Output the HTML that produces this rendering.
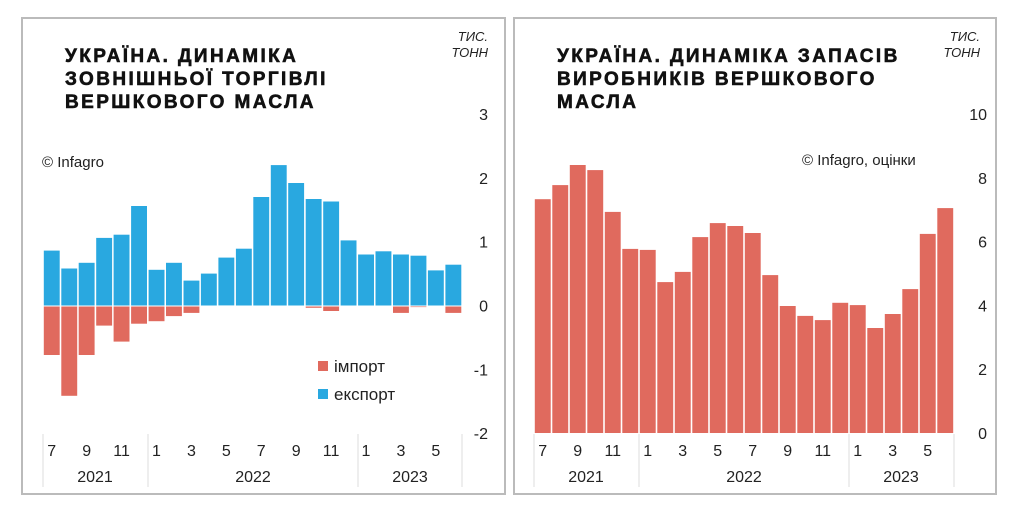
<!DOCTYPE html>
<html><head><meta charset="utf-8"><style>
html,body{margin:0;padding:0;background:#fff;width:1024px;height:517px;overflow:hidden}
svg{display:block;font-family:"Liberation Sans",sans-serif}
.t{font-weight:bold;font-size:19px;letter-spacing:2.4px;fill:#111;stroke:#111;stroke-width:0.6}
.u{font-style:italic;font-size:13px;fill:#222}
.y{font-size:16px;fill:#222}
.m{font-size:16px;fill:#222}
</style></head><body>
<svg id="s" width="1024" height="517" viewBox="0 0 1024 517">
<rect x="22" y="18" width="483" height="476" fill="none" stroke="#bbb" stroke-width="2"/>
<rect x="514" y="18" width="482" height="476" fill="none" stroke="#bbb" stroke-width="2"/>
<text class="t" x="65" y="62">УКРАЇНА. ДИНАМІКА</text>
<text class="t" x="65" y="85">ЗОВНІШНЬОЇ ТОРГІВЛІ</text>
<text class="t" x="65" y="108">ВЕРШКОВОГО МАСЛА</text>
<text class="u" x="488" y="41" text-anchor="end">ТИС.</text>
<text class="u" x="488" y="57" text-anchor="end">ТОНН</text>
<text class="t" x="557" y="62">УКРАЇНА. ДИНАМІКА ЗАПАСІВ</text>
<text class="t" x="557" y="85">ВИРОБНИКІВ ВЕРШКОВОГО</text>
<text class="t" x="557" y="108">МАСЛА</text>
<text class="u" x="980" y="41" text-anchor="end">ТИС.</text>
<text class="u" x="980" y="57" text-anchor="end">ТОНН</text>
<text x="42" y="167" style="font-size:15px;fill:#222">© Infagro</text>
<text x="802" y="165" style="font-size:15px;fill:#222">© Infagro, оцінки</text>
<rect x="318" y="361" width="10" height="10" fill="#e06a5e"/>
<text x="334" y="372" style="font-size:17px;fill:#222">імпорт</text>
<rect x="318" y="389" width="10" height="10" fill="#29a8e0"/>
<text x="334" y="400" style="font-size:17px;fill:#222">експорт</text>
<g id="g"></g>
</svg>
<script>
var g=document.getElementById('g'),h='';
var ex=[0.86,0.58,0.67,1.06,1.11,1.56,0.56,0.67,0.39,0.5,0.75,0.89,1.7,2.2,1.92,1.67,1.63,1.02,0.8,0.85,0.8,0.78,0.55,0.64];
var im=[0.76,1.4,0.76,0.3,0.55,0.27,0.23,0.15,0.1,0,0,0,0,0,0,0.02,0.07,0,0,0,0.1,0.01,0,0.1];
var st=[7.33,7.77,8.4,8.24,6.93,5.77,5.74,4.73,5.05,6.14,6.58,6.49,6.27,4.95,3.98,3.67,3.54,4.08,4.01,3.29,3.73,4.51,6.24,7.05];
var p=17.46,z=305.5,k=63.8;
for(var i=0;i<24;i++){var x=43+i*p;
h+='<rect x="'+(x+0.8).toFixed(1)+'" y="'+(z-ex[i]*k).toFixed(1)+'" width="'+(p-1.6).toFixed(1)+'" height="'+(ex[i]*k).toFixed(1)+'" fill="#29a8e0"/>';
if(im[i]>0)h+='<rect x="'+(x+0.8).toFixed(1)+'" y="'+(z+1)+'" width="'+(p-1.6).toFixed(1)+'" height="'+(im[i]*k).toFixed(1)+'" fill="#e06a5e"/>';
var x2=534+i*17.5,z2=433,k2=31.9;
h+='<rect x="'+(x2+0.8).toFixed(1)+'" y="'+(z2-st[i]*k2).toFixed(1)+'" width="15.9" height="'+(st[i]*k2).toFixed(1)+'" fill="#e06a5e"/>';}
var yl=[3,2,1,0,-1,-2];for(var j=0;j<6;j++)h+='<text class="y" x="488" y="'+(z-yl[j]*k+6)+'" text-anchor="end">'+yl[j]+'</text>';
for(var j=0;j<=10;j+=2)h+='<text class="y" x="987" y="'+(433-j*31.9+6)+'" text-anchor="end">'+j+'</text>';
var ms=[7,9,11,1,3,5,7,9,11,1,3,5];
for(var j=0;j<12;j++){h+='<text class="m" x="'+(43+(2*j+0.5)*p)+'" y="456" text-anchor="middle">'+ms[j]+'</text>';
h+='<text class="m" x="'+(534+(2*j+0.5)*17.5)+'" y="456" text-anchor="middle">'+ms[j]+'</text>';}
[43,148,358,462,534,639,849,954].forEach(function(x){h+='<line x1="'+x+'" y1="434" x2="'+x+'" y2="487" stroke="#ddd" stroke-width="1"/>';});
[[95,2021],[253,2022],[410,2023],[586,2021],[744,2022],[901,2023]].forEach(function(a){h+='<text class="m" x="'+a[0]+'" y="482" text-anchor="middle">'+a[1]+'</text>';});
g.innerHTML=h;
</script>
</body></html>
